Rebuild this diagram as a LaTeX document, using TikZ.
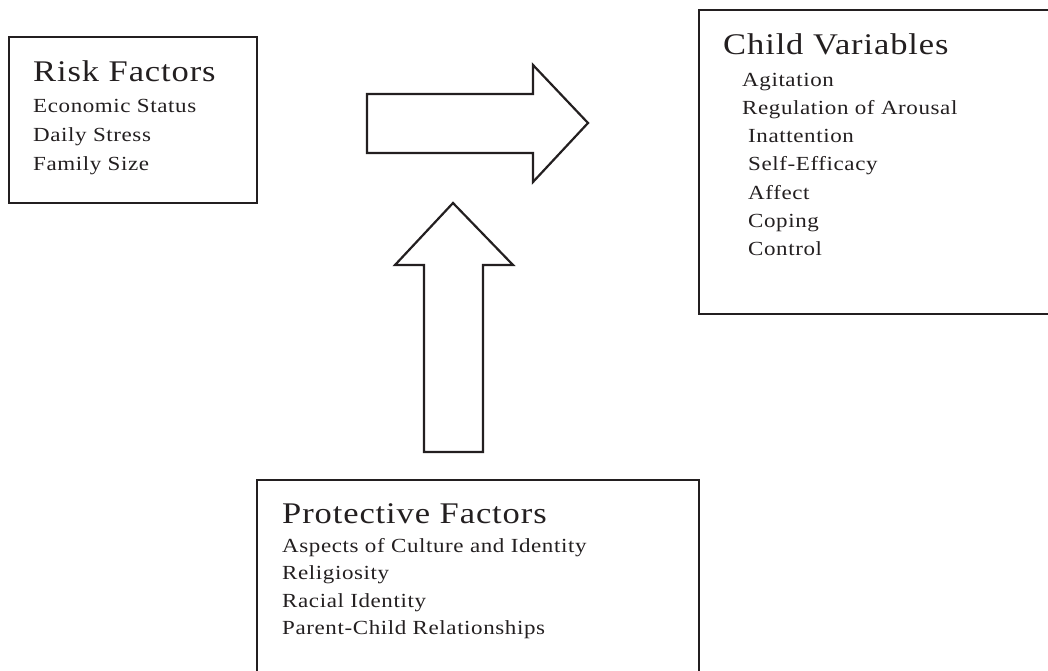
\documentclass[tikz,border=0pt]{standalone}
\usepackage{fontspec}
\setmainfont[FakeStretch=1.15, LetterSpace=3]{Liberation Serif}
\definecolor{ink}{HTML}{231F20}
\tikzset{
  frame/.style={draw=ink, line width=2.2pt, fill=none},
  blockarrow/.style={draw=ink, line width=2.2pt, line join=miter, fill=white},
  head/.style={inner sep=0pt, anchor=base west, text=ink, font=\fontsize{30}{36}\selectfont},
  item/.style={inner sep=0pt, anchor=base west, text=ink, font=\fontsize{20}{24}\selectfont},
}
\begin{document}
\begin{tikzpicture}[x=1pt, y=-1pt]
\useasboundingbox (0,0) rectangle (1048,671);
\clip (0,0) rectangle (1048,671);

% boxes
\draw[frame] (9,37) rectangle (257,203);
\node[inner sep=0pt, minimum width=248pt, minimum height=166pt, anchor=north west] (risk) at (9,37) {};
\draw[frame] (699,10) rectangle (1070,314);
\node[inner sep=0pt, minimum width=349pt, minimum height=304pt, anchor=north west] (child) at (699,10) {};
\draw[frame] (257,480) rectangle (699,700);
\node[inner sep=0pt, minimum width=442pt, minimum height=191pt, anchor=north west] (prot) at (257,480) {};

% Risk factors
\node[head] (riskT) at (33,82) {Risk Factors};
\foreach \t [count=\i] in {Economic Status, Daily Stress, Family Size}
  \node[item] (risk\i) at (33,{113+29*(\i-1)}) {\t};

% Child variables
\node[head] (childT) at (723,55) {Child Variables};
\node[item] (child1) at (742,87) {Agitation};
\node[item] (child2) at (742,115) {Regulation of Arousal};
\foreach \t [count=\i from 3] in {Inattention, Self-Efficacy, Affect, Coping, Control}
  \node[item] (child\i) at (748,{87+28*(\i-1)}) {\t};

% Protective factors
\node[head] (protT) at (282,523) {Protective Factors};
\foreach \t [count=\i] in {Aspects of Culture and Identity, Religiosity, Racial Identity, Parent-Child Relationships}
  \node[item] (prot\i) at (282,{552+27.5*(\i-1)}) {\t};

% block arrows: risk -> child, protective -> upward
\coordinate (rA) at (367,94);
\draw[blockarrow] (rA) -- (533,94) -- (533,65) -- (588,123) -- (533,182) -- (533,153) -- (367,153) -- cycle;
\coordinate (uA) at (424,452);
\draw[blockarrow] (uA) -- (424,265) -- (395,265) -- (453,203) -- (513,265) -- (483,265) -- (483,452) -- cycle;
\end{tikzpicture}
\end{document}
